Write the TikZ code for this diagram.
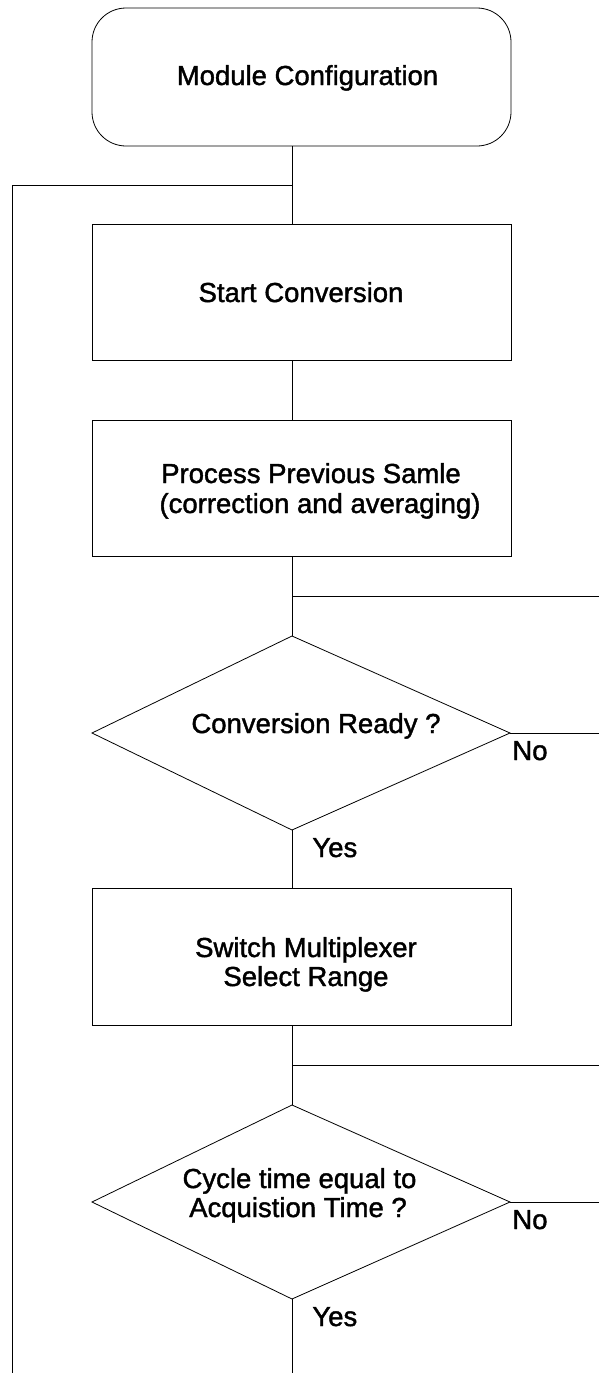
\documentclass[tikz,border=0pt]{standalone}
\usepackage{fontspec}
\setmainfont{Liberation Sans}[FakeBold=1.5]
\begin{document}
\begin{tikzpicture}[x=1pt,y=-1pt,line width=0.8pt,
  box/.style={draw,minimum width=419pt,minimum height=137pt,inner sep=0pt},
  lbl/.style={font=\fontsize{27.5}{29.5}\selectfont,inner sep=0pt,anchor=base},
  side/.style={lbl,anchor=base west}]
\useasboundingbox (0,0) rectangle (599,1373);
% boxes
\node[box,rounded corners=34pt,minimum height=138pt] (mc) at (301.5,77) {};
\node[box,minimum height=136pt] (sc) at (301.5,292) {};
\node[box,minimum height=136pt] (pp) at (301.5,488) {};
\node[box,minimum height=137pt] (sm) at (301.5,957) {};
% diamonds
\coordinate (sp) at (292,0);
\coordinate (d1t) at (292,636);
\coordinate (d1l) at (92,733);
\coordinate (d1r) at (510,733);
\coordinate (d1b) at (292,830);
\coordinate (d2t) at (292,1105);
\coordinate (d2l) at (92,1202);
\coordinate (d2r) at (510,1202);
\coordinate (d2b) at (292,1299);
\draw (d1t) -- (d1r) -- (d1b) -- (d1l) -- cycle;
\draw (d2t) -- (d2r) -- (d2b) -- (d2l) -- cycle;
% texts
\node[lbl] (mct) at (307.5,85) {Module Configuration};
\node[lbl] (sct) at (301,302) {Start Conversion};
\node[lbl] (pp1) at (311,483) {Process Previous Samle};
\node[lbl] (pp2) at (320,513) {(correction and averaging)};
\node[lbl] (d1x) at (316,733) {Conversion Ready ?};
\node[side] (no1) at (512,760) {No};
\node[side] (yes1) at (312,857) {Yes};
\node[lbl] (sm1) at (306,957) {Switch Multiplexer};
\node[lbl] (sm2) at (306,986) {Select Range};
\node[lbl] (d2x1) at (299.5,1188) {Cycle time equal to};
\node[lbl] (d2x2) at (298,1217) {Acquistion Time ?};
\node[side] (no2) at (512,1229) {No};
\node[side] (yes2) at (312,1326) {Yes};
% connectors
\coordinate (lc) at (292,185);
\coordinate (lt) at (12,185);
\coordinate (lb) at (12,1373);
\coordinate (j1) at (292,596);
\coordinate (e1) at (599,596);
\coordinate (e2) at (599,733);
\coordinate (j2) at (292,1065);
\coordinate (e3) at (599,1065);
\coordinate (e4) at (599,1202);
\coordinate (bot) at (292,1373);
\draw (mc.south -| sp) -- (sc.north -| sp);
\draw (lc) -- (lt) -- (lb);
\draw (sc.south -| sp) -- (pp.north -| sp);
\draw (pp.south -| sp) -- (d1t);
\draw (j1) -- (e1);
\draw (d1r) -- (e2);
\draw (d1b) -- (sm.north -| sp);
\draw (sm.south -| sp) -- (d2t);
\draw (j2) -- (e3);
\draw (d2r) -- (e4);
\draw (d2b) -- (bot);
\end{tikzpicture}
\end{document}
